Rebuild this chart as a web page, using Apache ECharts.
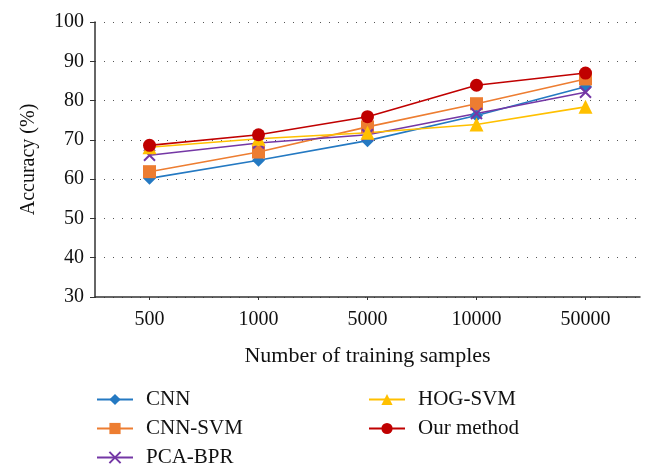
<!DOCTYPE html>
<html><head><meta charset="utf-8">
<script src="https://cdn.jsdelivr.net/npm/echarts@6/dist/echarts.min.js"></script>
<style>html,body{margin:0;padding:0;background:#fff}#c{width:654px;height:474px}</style>
</head><body><div id="c"></div>
<script>
const categories = ['500','1000','5000','10000','50000'];
const cnn = [60.2, 64.8, 69.8, 76.2, 83.5];
const cnnSvm = [61.9, 66.9, 73.3, 79.2, 85.5];
const pcaBpr = [66.1, 69.2, 71.3, 76.7, 82.1];
const hogSvm = [68.1, 70.3, 71.8, 73.9, 78.4];
const ours = [68.6, 71.3, 75.9, 83.9, 87.0];
const yTicks = {min: 30, max: 100, interval: 10};

const font = 'Liberation Serif';
const crossPath = 'path://M0,0 L10,10 M10,0 L0,10';
function s(name, data, color, symbol, size, extra) {
  return Object.assign({
    name, type: 'line', data, symbol, symbolSize: size,
    lineStyle: {color, width: 1.6},
    itemStyle: {color},
    emphasis: {disabled: true}
  }, extra || {});
}
const legendText = {fontFamily: font, fontSize: 21, color: '#111', padding: [0, 0, 0, 8]};
const chart = echarts.init(document.getElementById('c'), null, {renderer: 'canvas'});
chart.setOption({
  animation: false,
  textStyle: {fontFamily: font},
  grid: {left: 95, right: 14, top: 22, bottom: 177},
  legend: [
    {data: ['CNN', 'CNN-SVM', 'PCA-BPR'], orient: 'vertical', left: 91, top: 384, itemGap: 8,
     itemWidth: 36, itemHeight: 14, textStyle: legendText},
    {data: ['HOG-SVM', 'Our method'], orient: 'vertical', left: 363, top: 384, itemGap: 8,
     itemWidth: 36, itemHeight: 14, textStyle: legendText}
  ],
  xAxis: {
    type: 'category', data: categories, boundaryGap: true,
    name: 'Number of training samples', nameLocation: 'middle', nameGap: 48,
    nameTextStyle: {fontFamily: font, fontSize: 22, color: '#111'},
    axisLine: {lineStyle: {color: '#333', width: 1.5}},
    axisTick: {show: true, inside: false, alignWithLabel: true, length: 3, lineStyle: {color: '#333'}},
    axisLabel: {fontFamily: font, fontSize: 20, color: '#111', margin: 13}
  },
  yAxis: {
    type: 'value', min: yTicks.min, max: yTicks.max, interval: yTicks.interval,
    name: 'Accuracy (%)', nameLocation: 'middle', nameGap: 56,
    nameTextStyle: {fontFamily: font, fontSize: 20, color: '#111'},
    axisLine: {show: true, lineStyle: {color: '#333', width: 1.5}},
    axisTick: {show: true, length: 5, lineStyle: {color: '#333'}},
    axisLabel: {fontFamily: font, fontSize: 20, color: '#111', margin: 11},
    splitLine: {show: true, lineStyle: {color: '#555', type: [1, 8], width: 1.2}}
  },
  series: [
    s('CNN', cnn, '#2479c2', 'diamond', 13),
    s('CNN-SVM', cnnSvm, '#ed7d31', 'rect', 13),
    s('PCA-BPR', pcaBpr, '#7437a5', crossPath, 11, {itemStyle: {color: 'rgba(0,0,0,0)', borderColor: '#7437a5', borderWidth: 2}}),
    s('HOG-SVM', hogSvm, '#ffc000', 'triangle', 14),
    s('Our method', ours, '#c00000', 'circle', 13)
  ]
});
</script></body></html>
